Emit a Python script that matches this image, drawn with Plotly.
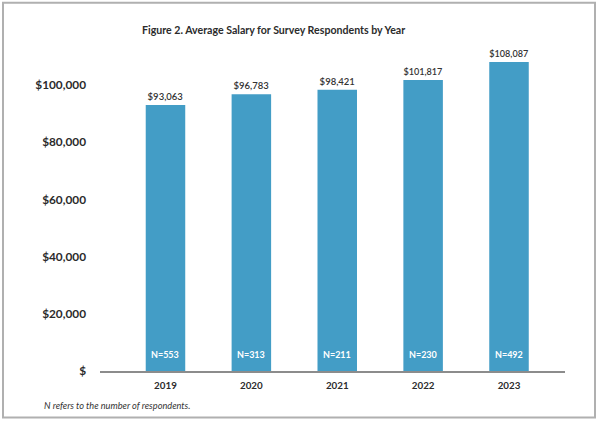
import plotly.graph_objects as go

years = ["2019", "2020", "2021", "2022", "2023"]
salaries = [93063, 96783, 98421, 101817, 108087]
counts = [553, 313, 211, 230, 492]
tick_vals = [0, 20000, 40000, 60000, 80000, 100000]
tick_text = ["$", "$20,000", "$40,000", "$60,000", "$80,000", "$100,000"]
title = "Figure 2. Average Salary for Survey Respondents by Year"
footnote = "N refers to the number of respondents."

W, H = 600, 425
L, R, T, B = 100, 35, 28.3, 53.5
pw, ph = W - L - R, H - T - B

def px(x):
    return (x - L) / pw

def py(y):
    return (H - B - y) / ph

BAR = "#439dc6"
FONT = "Lato"

fig = go.Figure()
fig.add_trace(go.Bar(
    x=list(range(len(years))), y=salaries, width=0.46,
    marker=dict(color=BAR, line=dict(width=0)),
    text=[f"${v:,}" for v in salaries], textposition="outside",
    textfont=dict(family=FONT, size=9.5, color="#333333", weight=600),
    cliponaxis=False, hoverinfo="skip",
))

for i, n in enumerate(counts):
    fig.add_annotation(x=i, y=0, yanchor="middle", yshift=17, text=f"<b>N={n}</b>",
                       showarrow=False, font=dict(family=FONT, size=9, color="white"))

fig.add_annotation(xref="paper", yref="paper", x=px(273), y=py(30), xanchor="center",
                   yanchor="middle", text=f"<b>{title}</b>", showarrow=False,
                   font=dict(family=FONT, size=10.6, color="#2b2b2b"))
fig.add_annotation(xref="paper", yref="paper", x=px(42), y=py(406), xanchor="left",
                   yanchor="middle", text=f"<i>{footnote}</i>", showarrow=False,
                   font=dict(family=FONT, size=9.2, color="#333"))

fig.add_shape(type="rect", xref="paper", yref="paper", x0=px(3), x1=px(595),
              y0=py(3), y1=py(418), line=dict(color="#b0b0b0", width=2), layer="below")

fig.update_layout(
    width=W, height=H, margin=dict(l=L, r=R, t=T, b=B),
    paper_bgcolor="white", plot_bgcolor="white", showlegend=False,
    font=dict(family=FONT),
    xaxis=dict(range=[-0.7625, 4.652], tickvals=list(range(len(years))),
               ticktext=[f"<b>{y}</b>" for y in years], showgrid=False, zeroline=False,
               showline=True, linecolor="#8c8c8c", linewidth=1.5, ticks="",
               ticklabelstandoff=4,
               tickfont=dict(family=FONT, size=9.8, color="#2b2b2b")),
    yaxis=dict(range=[0, 120000], tickvals=tick_vals,
               ticktext=[f"<b>{t}</b>" for t in tick_text], showgrid=False,
               zeroline=False, showline=False, ticks="", ticklabelstandoff=13,
               tickfont=dict(family=FONT, size=11.8, color="#2b2b2b")),
)

fig.write_html("out.html", config={"displayModeBar": False},
               post_script="document.body.style.margin='0';")
